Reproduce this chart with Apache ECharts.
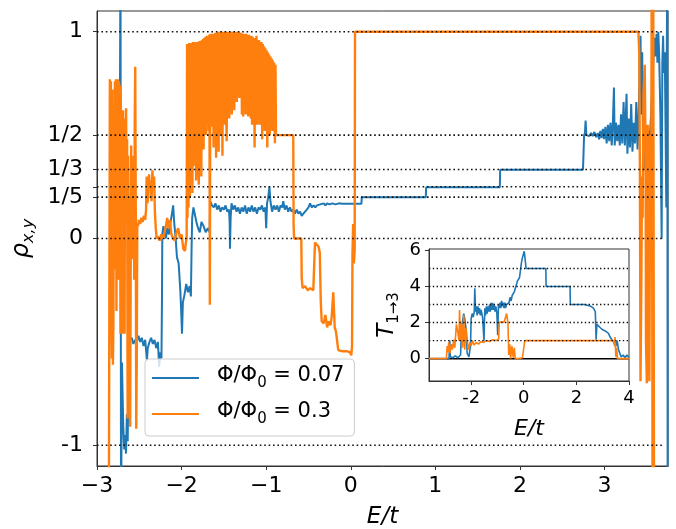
<!DOCTYPE html>
<html>
<head>
<meta charset="utf-8">
<script src="https://cdn.jsdelivr.net/npm/echarts@6/dist/echarts.min.js"></script>
<style>html,body{margin:0;padding:0;background:#fff}#c{width:676px;height:529px}</style>
</head>
<body>
<div id="c"></div>
<script>
// ---------------- DATA ----------------
// Main panel: rho_{x,y} vs E/t
const seriesNames = ['Φ/Φ₀ = 0.07', 'Φ/Φ₀ = 0.3'];
const phiValues = ['0.07', '0.3'];
const xTicksMain = [-3, -2, -1, 0, 1, 2, 3];
const rhoTicks = [-1, 0, 0.2, 0.25, 1/3, 0.5, 1];
const rhoTickLabels = ['-1', '0', '1/5', '', '1/3', '1/2', '1'];
const refLineSpan = [-3, 3.71];

const rhoPhi007 = [
  [-2.76,0.02],[-2.735,0.05],[-2.722,1.4],[-2.716,-1.4],[-2.705,-0.6],[-2.69,-0.9],[-2.678,-1.02],[-2.668,-0.95],
  [-2.657,-1.04],[-2.647,-0.85],[-2.637,-0.98],[-2.627,-0.6],[-2.612,-0.49],[-2.59,-0.48],[-2.57,-0.51],[-2.55,-0.49],
  [-2.53,-0.5],[-2.51,-0.47],[-2.49,-0.5],[-2.47,-0.48],[-2.45,-0.52],[-2.43,-0.49],[-2.41,-0.59],[-2.40,-0.53],
  [-2.38,-0.5],[-2.36,-0.48],[-2.34,-0.51],[-2.32,-0.49],[-2.30,-0.53],[-2.28,-0.5],[-2.265,-0.62],[-2.25,-0.55],
  [-2.238,-0.58],[-2.232,-0.3],[-2.228,0.02],[-2.215,0.06],[-2.20,0.03],[-2.185,0.0],[-2.17,0.05],[-2.15,0.02],
  [-2.13,0.08],[-2.11,0.13],[-2.10,0.16],[-2.088,0.08],[-2.07,0.0],[-2.055,-0.09],[-2.035,-0.12],[-2.015,-0.25],
  [-2.005,-0.35],[-1.995,-0.46],[-1.985,-0.31],[-1.965,-0.27],[-1.945,-0.22],[-1.925,-0.26],[-1.905,-0.23],[-1.89,-0.28],
  [-1.882,-0.05],[-1.875,0.1],[-1.86,0.15],[-1.845,0.12],[-1.825,0.08],[-1.805,0.05],[-1.785,0.03],[-1.765,0.08],
  [-1.74,0.06],[-1.715,0.03],[-1.69,0.05],[-1.668,0.03],[-1.662,0.18],[-1.64,0.16],[-1.62,0.15],[-1.60,0.17],
  [-1.58,0.14],[-1.56,0.16],[-1.54,0.13],[-1.52,0.15],[-1.50,0.14],[-1.48,0.16],[-1.46,0.13],[-1.44,0.14],
  [-1.432,0.08],[-1.428,-0.05],[-1.42,0.1],[-1.41,0.17],[-1.39,0.14],[-1.37,0.16],[-1.35,0.13],[-1.33,0.15],
  [-1.31,0.12],[-1.29,0.15],[-1.27,0.13],[-1.25,0.16],[-1.23,0.12],[-1.21,0.15],[-1.19,0.13],[-1.17,0.16],
  [-1.15,0.13],[-1.13,0.15],[-1.11,0.12],[-1.09,0.15],[-1.07,0.14],[-1.05,0.16],[-1.03,0.13],[-1.01,0.15],
  [-1.0,0.05],[-0.99,0.17],[-0.975,0.2],[-0.962,0.25],[-0.95,0.18],[-0.93,0.13],[-0.91,0.16],[-0.89,0.14],
  [-0.87,0.16],[-0.85,0.13],[-0.83,0.16],[-0.81,0.15],[-0.798,0.18],[-0.78,0.14],[-0.76,0.16],[-0.74,0.13],
  [-0.72,0.15],[-0.70,0.13],[-0.68,0.14],[-0.66,0.12],[-0.64,0.14],[-0.62,0.12],[-0.60,0.13],[-0.58,0.11],
  [-0.56,0.12],[-0.54,0.13],[-0.52,0.14],[-0.50,0.15],[-0.482,0.17],[-0.46,0.15],[-0.44,0.16],[-0.42,0.15],
  [-0.40,0.16],[-0.38,0.155],[-0.36,0.165],[-0.34,0.16],[-0.32,0.17],[-0.30,0.16],[-0.28,0.17],[-0.25,0.165],
  [-0.22,0.17],[-0.18,0.165],[-0.14,0.17],[-0.10,0.168],[-0.05,0.168],[0.0,0.168],[0.06,0.168],[0.126,0.168],
  [0.13,0.2],[0.887,0.2],[0.891,0.248],[1.762,0.248],[1.766,0.333],[2.745,0.333],[2.752,0.42],[2.758,0.5],
  [2.768,0.51],[2.776,0.57],[2.785,0.5],[2.80,0.505],[2.82,0.495],[2.84,0.51],[2.86,0.495],[2.88,0.515],
  [2.90,0.49],[2.92,0.51],[2.935,0.48],[2.95,0.52],[2.965,0.485],[2.98,0.53],[2.995,0.48],[3.01,0.54],
  [3.025,0.46],[3.04,0.55],[3.055,0.47],[3.07,0.56],[3.085,0.45],[3.10,0.58],[3.111,0.73],[3.12,0.45],
  [3.135,0.56],[3.15,0.47],[3.165,0.55],[3.18,0.45],[3.195,0.6],[3.21,0.46],[3.225,0.66],[3.24,0.45],
  [3.26,0.7],[3.27,0.41],[3.285,0.58],[3.30,0.44],[3.315,0.65],[3.33,0.42],[3.345,0.56],[3.36,0.46],
  [3.375,0.66],[3.39,0.43],[3.40,0.52],[3.415,0.85],[3.425,0.98],[3.435,0.6],[3.445,0.9],[3.455,0.4],
  [3.465,0.33],[3.48,0.5],[3.50,0.38],[3.515,0.52],[3.53,0.45],[3.55,0.6],[3.57,0.8],[3.59,0.97],
  [3.60,0.88],[3.615,0.99],[3.625,0.85],[3.635,1.0],[3.645,0.9],[3.66,0.6],[3.675,0.0],[3.683,0.85],
  [3.692,0.98],[3.70,0.8],[3.712,0.9],[3.722,0.5],[3.73,0.15],[3.736,0.9],[3.742,1.4],[3.746,-1.4]
];

const rhoPhi03 = [
  [-2.86,-1.4],[-2.848,0.77],[-2.842,0.55],[-2.836,0.76],[-2.83,-0.3],[-2.824,-0.58],[-2.818,0.72],[-2.812,-0.61],
  [-2.806,-0.4],[-2.80,0.6],[-2.794,-0.15],[-2.788,0.76],[-2.782,0.2],[-2.776,0.77],[-2.77,-0.35],[-2.764,0.68],
  [-2.758,0.05],[-2.752,0.77],[-2.746,-0.2],[-2.74,0.76],[-2.734,0.4],[-2.728,0.74],[-2.722,-0.46],[-2.716,0.55],
  [-2.71,-0.3],[-2.704,0.45],[-2.698,-0.46],[-2.692,0.62],[-2.686,0.1],[-2.68,0.58],[-2.674,-0.46],[-2.668,0.57],
  [-2.662,0.35],[-2.656,0.63],[-2.65,0.15],[-2.644,0.48],[-2.638,-0.87],[-2.632,0.4],[-2.626,-0.02],[-2.62,-0.5],
  [-2.614,0.2],[-2.608,-0.91],[-2.602,-0.19],[-2.596,0.45],[-2.59,-0.1],[-2.584,0.3],[-2.578,-0.05],[-2.572,0.1],
  [-2.566,0.4],[-2.56,-0.2],[-2.554,0.55],[-2.548,0.83],[-2.542,0.2],[-2.536,-0.92],[-2.53,-0.6],[-2.524,0.07],
  [-2.515,0.06],[-2.505,0.09],[-2.49,0.07],[-2.475,0.1],[-2.46,0.08],[-2.445,0.11],[-2.43,0.09],[-2.42,0.14],
  [-2.413,0.3],[-2.405,0.17],[-2.394,0.2],[-2.385,0.31],[-2.375,0.24],[-2.365,0.28],[-2.355,0.18],[-2.345,0.33],
  [-2.335,0.25],[-2.325,0.3],[-2.315,0.12],[-2.305,0.05],[-2.295,0.0],[-2.28,0.01],[-2.26,-0.01],[-2.24,0.02],
  [-2.22,0.0],[-2.20,0.03],[-2.185,0.06],[-2.17,0.1],[-2.155,0.05],[-2.14,0.09],[-2.12,0.02],[-2.10,0.0],
  [-2.08,-0.01],[-2.06,0.03],[-2.04,0.05],[-2.02,0.0],[-2.0,0.02],[-1.98,-0.05],[-1.96,-0.06],[-1.95,-0.02],
  [-1.94,0.0],[-1.935,0.94],[-1.93,0.1],[-1.925,0.94],[-1.918,0.15],[-1.91,0.945],[-1.902,0.2],[-1.895,0.94],
  [-1.888,0.3],[-1.88,0.945],[-1.872,0.22],[-1.865,0.95],[-1.858,0.35],[-1.85,0.945],[-1.842,0.46],[-1.835,0.95],
  [-1.828,0.28],[-1.82,0.95],[-1.812,0.3],[-1.805,0.95],[-1.797,0.26],[-1.79,0.955],[-1.782,0.45],[-1.775,0.955],
  [-1.767,0.3],[-1.76,0.96],[-1.752,0.5],[-1.745,0.965],[-1.74,0.43],[-1.732,0.97],[-1.725,0.55],[-1.717,0.975],
  [-1.71,0.5],[-1.702,0.98],[-1.695,0.58],[-1.687,0.98],[-1.68,0.52],[-1.672,0.985],[-1.666,-0.32],[-1.66,0.99],
  [-1.652,0.54],[-1.645,0.99],[-1.637,0.57],[-1.63,0.99],[-1.622,0.44],[-1.615,0.99],[-1.607,0.6],[-1.6,0.995],
  [-1.592,0.39],[-1.585,0.995],[-1.577,0.55],[-1.57,1.0],[-1.562,0.42],[-1.555,0.97],[-1.547,0.58],[-1.54,1.0],
  [-1.532,0.5],[-1.525,1.0],[-1.517,0.4],[-1.51,1.0],[-1.502,0.62],[-1.495,1.0],[-1.487,0.55],[-1.48,1.0],
  [-1.472,0.6],[-1.467,0.47],[-1.46,1.0],[-1.452,0.64],[-1.445,1.0],[-1.437,0.58],[-1.43,1.0],[-1.422,0.66],
  [-1.415,1.0],[-1.407,0.6],[-1.4,1.0],[-1.392,0.7],[-1.385,1.0],[-1.377,0.62],[-1.37,1.0],[-1.362,0.72],
  [-1.355,1.0],[-1.347,0.66],[-1.34,1.0],[-1.332,0.7],[-1.325,1.0],[-1.317,0.68],[-1.31,0.995],[-1.302,0.75],
  [-1.295,0.995],[-1.287,0.6],[-1.28,0.99],[-1.272,0.59],[-1.265,0.99],[-1.257,0.62],[-1.25,0.99],[-1.242,0.6],
  [-1.235,0.99],[-1.227,0.6],[-1.22,0.985],[-1.212,0.59],[-1.205,0.985],[-1.197,0.6],[-1.19,0.98],[-1.182,0.58],
  [-1.175,0.98],[-1.167,0.55],[-1.16,0.975],[-1.152,0.56],[-1.145,0.97],[-1.137,0.44],[-1.13,0.97],[-1.122,0.55],
  [-1.115,0.98],[-1.107,0.55],[-1.1,0.96],[-1.092,0.58],[-1.085,0.96],[-1.077,0.55],[-1.07,0.95],[-1.062,0.56],
  [-1.055,0.95],[-1.047,0.48],[-1.04,0.94],[-1.032,0.56],[-1.025,0.93],[-1.017,0.52],[-1.01,0.92],[-1.002,0.55],
  [-0.995,0.91],[-0.987,0.44],[-0.98,0.9],[-0.972,0.55],[-0.965,0.89],[-0.957,0.5],[-0.95,0.88],[-0.942,0.6],
  [-0.935,0.87],[-0.927,0.52],[-0.92,0.86],[-0.912,0.55],[-0.905,0.85],[-0.897,0.46],[-0.89,0.84],[-0.884,0.5],
  [-0.68,0.5],[-0.676,0.07],[-0.67,0.0],[-0.585,0.0],[-0.58,-0.19],[-0.57,-0.24],[-0.54,-0.23],[-0.51,-0.25],
  [-0.48,-0.24],[-0.443,-0.25],[-0.423,-0.02],[-0.40,-0.02],[-0.38,-0.04],[-0.366,-0.07],[-0.355,-0.3],[-0.344,-0.4],
  [-0.32,-0.41],[-0.30,-0.37],[-0.28,-0.43],[-0.26,-0.4],[-0.24,-0.42],[-0.226,-0.38],[-0.207,-0.26],[-0.19,-0.43],
  [-0.175,-0.45],[-0.16,-0.5],[-0.148,-0.54],[-0.1,-0.545],[-0.05,-0.545],[-0.009,-0.55],[0.006,-0.565],[0.015,-0.52],
  [0.02,-0.08],[0.028,0.07],[0.036,-0.12],[0.046,-0.06],[0.05,1.0],[3.40,1.0],[3.41,0.9],[3.418,0.3],
  [3.425,-0.69],[3.435,-0.2],[3.442,0.3],[3.45,0.1],[3.46,0.7],[3.475,0.84],[3.485,0.4],[3.49,-0.5],
  [3.50,-0.7],[3.51,0.55],[3.52,-0.3],[3.53,-0.69],[3.54,0.5],[3.55,-0.1],[3.558,1.4],[3.568,-1.4],
  [3.575,1.4],[3.585,-1.4]
];

// Inset: T_{1->3} vs E/t
const insetXTicks = [-2, 0, 2, 4];
const insetYTicks = [0, 2, 4, 6];
const insetGridLevels = [1, 2, 3, 4, 5];
const insetXSpan = [-3.6, 4.0];

const tPhi007 = [
  [-3.6,0],[-2.84,0],[-2.81,1.0],[-2.79,0.1],[-2.7,0.05],[-2.6,0.15],[-2.5,0.05],[-2.4,0.2],
  [-2.36,1.8],[-2.32,2.1],[-2.28,2.5],[-2.24,2.2],[-2.18,1.5],[-2.15,0.3],[-2.08,0.1],[-2.02,0.8],
  [-2.0,2.2],[-1.96,2.5],[-1.92,2.3],[-1.88,2.6],[-1.86,3.9],[-1.83,2.6],[-1.8,2.9],[-1.77,2.4],
  [-1.74,2.9],[-1.71,2.5],[-1.68,2.8],[-1.65,2.4],[-1.62,2.7],[-1.59,2.5],[-1.56,2.2],[-1.51,1.0],
  [-1.48,2.8],[-1.45,2.4],[-1.42,2.9],[-1.39,2.5],[-1.36,2.9],[-1.33,2.6],[-1.3,3.0],[-1.27,2.6],
  [-1.24,3.1],[-1.21,2.7],[-1.18,3.1],[-1.15,2.7],[-1.12,3.0],[-1.09,2.6],[-1.06,2.9],[-1.02,2.5],
  [-0.99,1.3],[-0.96,3.0],[-0.93,2.8],[-0.9,3.1],[-0.87,2.8],[-0.84,3.2],[-0.81,2.9],[-0.78,3.1],
  [-0.75,2.8],[-0.72,3.1],[-0.69,2.8],[-0.66,3.0],[-0.63,2.9],[-0.6,3.1],[-0.56,3.1],[-0.52,3.4],
  [-0.48,3.2],[-0.44,3.5],[-0.4,3.6],[-0.36,3.7],[-0.32,3.9],[-0.28,4.1],[-0.24,4.3],[-0.2,4.2],
  [-0.16,4.5],[-0.12,4.6],[-0.09,5.3],[-0.05,5.6],[-0.01,5.8],[0.02,5.95],[0.07,5.95],[0.09,5.0],
  [0.84,5.0],[0.85,4.0],[1.76,4.0],[1.77,3.0],[2.3,3.0],[2.45,2.95],[2.55,2.9],[2.65,2.8],
  [2.72,2.6],[2.75,1.05],[2.78,1.9],[2.85,1.85],[2.92,1.7],[3.0,1.6],[3.08,1.55],[3.15,1.45],
  [3.22,1.4],[3.28,1.2],[3.35,1.05],[3.42,0.9],[3.5,0.7],[3.55,1.0],[3.6,0.5],[3.65,0.3],
  [3.7,0.1],[3.78,0.2],[3.85,0.05],[3.92,0.2],[3.96,0.15],[4.0,0.05]
];

const tPhi03 = [
  [-3.6,0],[-2.94,0],[-2.91,0.7],[-2.88,0.35],[-2.85,0.9],[-2.8,0.3],[-2.75,0.8],[-2.71,0.5],
  [-2.66,1.05],[-2.62,0.6],[-2.56,1.9],[-2.51,1.5],[-2.46,1.0],[-2.44,2.7],[-2.4,1.0],[-2.36,1.9],
  [-2.32,0.6],[-2.28,2.4],[-2.24,0.5],[-2.2,1.7],[-2.15,1.0],[-2.1,0.5],[-2.05,0.9],[-2.0,0.7],
  [-1.95,1.0],[-1.88,0.75],[-1.8,0.9],[-1.72,0.8],[-1.62,0.95],[-1.52,0.9],[-1.42,1.0],[-1.3,0.95],
  [-1.18,1.05],[-1.05,1.0],[-0.95,1.1],[-0.93,2.0],[-0.85,2.05],[-0.75,2.0],[-0.68,2.1],[-0.65,2.5],
  [-0.6,2.0],[-0.57,0.2],[-0.53,0.8],[-0.5,0.0],[-0.45,0.7],[-0.4,0.05],[-0.36,0.6],[-0.32,0.0],
  [-0.2,0.0],[-0.05,0.05],[0.02,0.0],[0.04,1.0],[3.42,1.0],[3.45,0.7],[3.47,1.2],[3.5,0.1],
  [3.53,0.6],[3.56,0.0],[4.0,0.0]
];

// ---------------- CHART ----------------
const FONT = 'DejaVu Sans';
const BLUE = '#1f77b4', ORANGE = '#ff7f0e';
const chart = echarts.init(document.getElementById('c'), null, {renderer: 'canvas'});

function fmtMinus(v) { return v < 0 ? '\u2212' + Math.abs(v) : String(v); }
function rhoLabel(v) {
  for (let i = 0; i < rhoTicks.length; i++) if (Math.abs(rhoTicks[i] - v) < 1e-6) return rhoTickLabels[i];
  return '';
}
function legendLabel(name) {
  const k = seriesNames.indexOf(name);
  return '{a|Φ/Φ}{s|0}{a| = ' + phiValues[k] + '}';
}

const dotted = {color: '#111', width: 1.6, type: [1.6, 2.8], cap: 'butt'};
const dottedInset = {color: '#111', width: 1.4, type: [1.4, 2.4], cap: 'butt'};

const series = [
  {name: seriesNames[0], type: 'line', xAxisIndex: 0, yAxisIndex: 0, data: rhoPhi007, showSymbol: false,
   symbol: 'none', clip: true, lineStyle: {color: BLUE, width: 2}, itemStyle: {color: BLUE}, z: 2},
  {name: seriesNames[1], type: 'line', xAxisIndex: 0, yAxisIndex: 0, data: rhoPhi03, showSymbol: false,
   symbol: 'none', clip: true, lineStyle: {color: ORANGE, width: 2.4}, itemStyle: {color: ORANGE}, z: 3}
];
rhoTicks.forEach((v, i) => {
  series.push({name: 'ref' + i, type: 'line', xAxisIndex: 0, yAxisIndex: 0, symbol: 'none', silent: true,
    data: [[refLineSpan[0], v], [refLineSpan[1], v]], lineStyle: dotted, z: 4});
});
// inset
series.push({name: 'zero', type: 'line', xAxisIndex: 1, yAxisIndex: 1, symbol: 'none', silent: true,
  data: [[insetXSpan[0], 0], [insetXSpan[1], 0]], lineStyle: {color: '#000', width: 1.5}, z: 5});
series.push({name: 'T007', type: 'line', xAxisIndex: 1, yAxisIndex: 1, data: tPhi007, symbol: 'none', clip: true,
  lineStyle: {color: BLUE, width: 1.6}, z: 6});
series.push({name: 'T03', type: 'line', xAxisIndex: 1, yAxisIndex: 1, data: tPhi03, symbol: 'none', clip: true,
  lineStyle: {color: ORANGE, width: 1.6}, z: 7});
insetGridLevels.forEach((v, i) => {
  series.push({name: 'grid' + i, type: 'line', xAxisIndex: 1, yAxisIndex: 1, symbol: 'none', silent: true,
    data: [[insetXSpan[0], v], [insetXSpan[1], v]], lineStyle: dottedInset, z: 8});
});

const axisCommon = {
  axisLine: {show: true, onZero: false, lineStyle: {color: '#333', width: 1}},
  axisTick: {show: true, inside: false, length: 4, lineStyle: {color: '#333', width: 1}},
  splitLine: {show: false}
};

const option = {
  animation: false,
  backgroundColor: '#fff',
  textStyle: {fontFamily: FONT},
  grid: [
    {left: 97, right: 8, top: 11, bottom: 63, show: true, borderColor: '#333', borderWidth: 1,
     containLabel: false, outerBoundsMode: 'none', z: 0},
    {left: 429, top: 249, width: 200, height: 132, show: true, borderColor: '#333', borderWidth: 1,
     backgroundColor: '#fff', containLabel: false, outerBoundsMode: 'none', z: 4}
  ],
  xAxis: [
    Object.assign({}, axisCommon, {
      type: 'value', gridIndex: 0, min: -3, max: 3.75,
      axisTick: Object.assign({}, axisCommon.axisTick, {customValues: xTicksMain}),
      axisLabel: {customValues: xTicksMain, formatter: fmtMinus, fontSize: 22, color: '#000', margin: 9, fontFamily: FONT},
      name: 'E/t', nameLocation: 'middle', nameGap: 40,
      nameTextStyle: {fontSize: 23, fontStyle: 'italic', color: '#000', fontFamily: FONT}
    }),
    Object.assign({}, axisCommon, {
      type: 'value', gridIndex: 1, min: insetXSpan[0], max: insetXSpan[1], z: 5,
      axisTick: Object.assign({}, axisCommon.axisTick, {customValues: insetXTicks}),
      axisLabel: {customValues: insetXTicks, formatter: v => String(v), fontSize: 18, color: '#000', margin: 8, fontFamily: FONT},
      name: 'E/t', nameLocation: 'middle', nameGap: 37,
      nameTextStyle: {fontSize: 22, fontStyle: 'italic', color: '#000', fontFamily: FONT}
    })
  ],
  yAxis: [
    Object.assign({}, axisCommon, {
      type: 'value', gridIndex: 0, min: -1.1, max: 1.1,
      axisTick: Object.assign({}, axisCommon.axisTick, {customValues: rhoTicks}),
      axisLabel: {customValues: rhoTicks, formatter: rhoLabel, fontSize: 22, color: '#000', margin: 14, fontFamily: FONT},
      name: '{i|ρ}{s|x,y}', nameLocation: 'middle', nameGap: 62,
      nameTextStyle: {color: '#000', fontFamily: FONT,
        rich: {i: {fontSize: 24, fontStyle: 'italic', fontFamily: FONT, lineHeight: 24, verticalAlign: 'top', color: '#000'},
               s: {fontSize: 16, fontStyle: 'italic', fontFamily: FONT, lineHeight: 16, padding: [14, 0, 0, 0], color: '#000'}}}
    }),
    Object.assign({}, axisCommon, {
      type: 'value', gridIndex: 1, min: -1.24, max: 6.08, z: 5,
      axisTick: Object.assign({}, axisCommon.axisTick, {customValues: insetYTicks}),
      axisLabel: {customValues: insetYTicks, formatter: v => String(v), fontSize: 18, color: '#000', margin: 8, fontFamily: FONT},
      name: '{i|T}{s|1→3}', nameLocation: 'middle', nameGap: 30,
      nameTextStyle: {color: '#000', fontFamily: FONT,
        rich: {i: {fontSize: 23, fontStyle: 'italic', fontFamily: FONT, lineHeight: 23, verticalAlign: 'top', color: '#000'},
               s: {fontSize: 15, fontFamily: FONT, lineHeight: 15, padding: [13, 0, 0, 0], color: '#000'}}}
    })
  ],
  legend: {
    data: seriesNames, orient: 'vertical', left: 145, top: 359,
    padding: [6, 10, 9, 7], itemGap: 10, itemWidth: 47, itemHeight: 2, icon: 'rect',
    borderColor: '#ccc', borderWidth: 1, borderRadius: 4, backgroundColor: 'rgba(255,255,255,0.8)',
    formatter: legendLabel,
    textStyle: {fontSize: 21, lineHeight: 26, color: '#000', fontFamily: FONT, padding: [0, 0, 0, 13],
      rich: {
        a: {fontSize: 21, lineHeight: 26, verticalAlign: 'top', color: '#000', fontFamily: FONT},
        s: {fontSize: 15, lineHeight: 15, verticalAlign: 'top', padding: [11, 0, 0, 0], color: '#000', fontFamily: FONT}
      }},
    selectedMode: false, z: 10
  },
  series: series
};
chart.setOption(option);
</script>
</body>
</html>
